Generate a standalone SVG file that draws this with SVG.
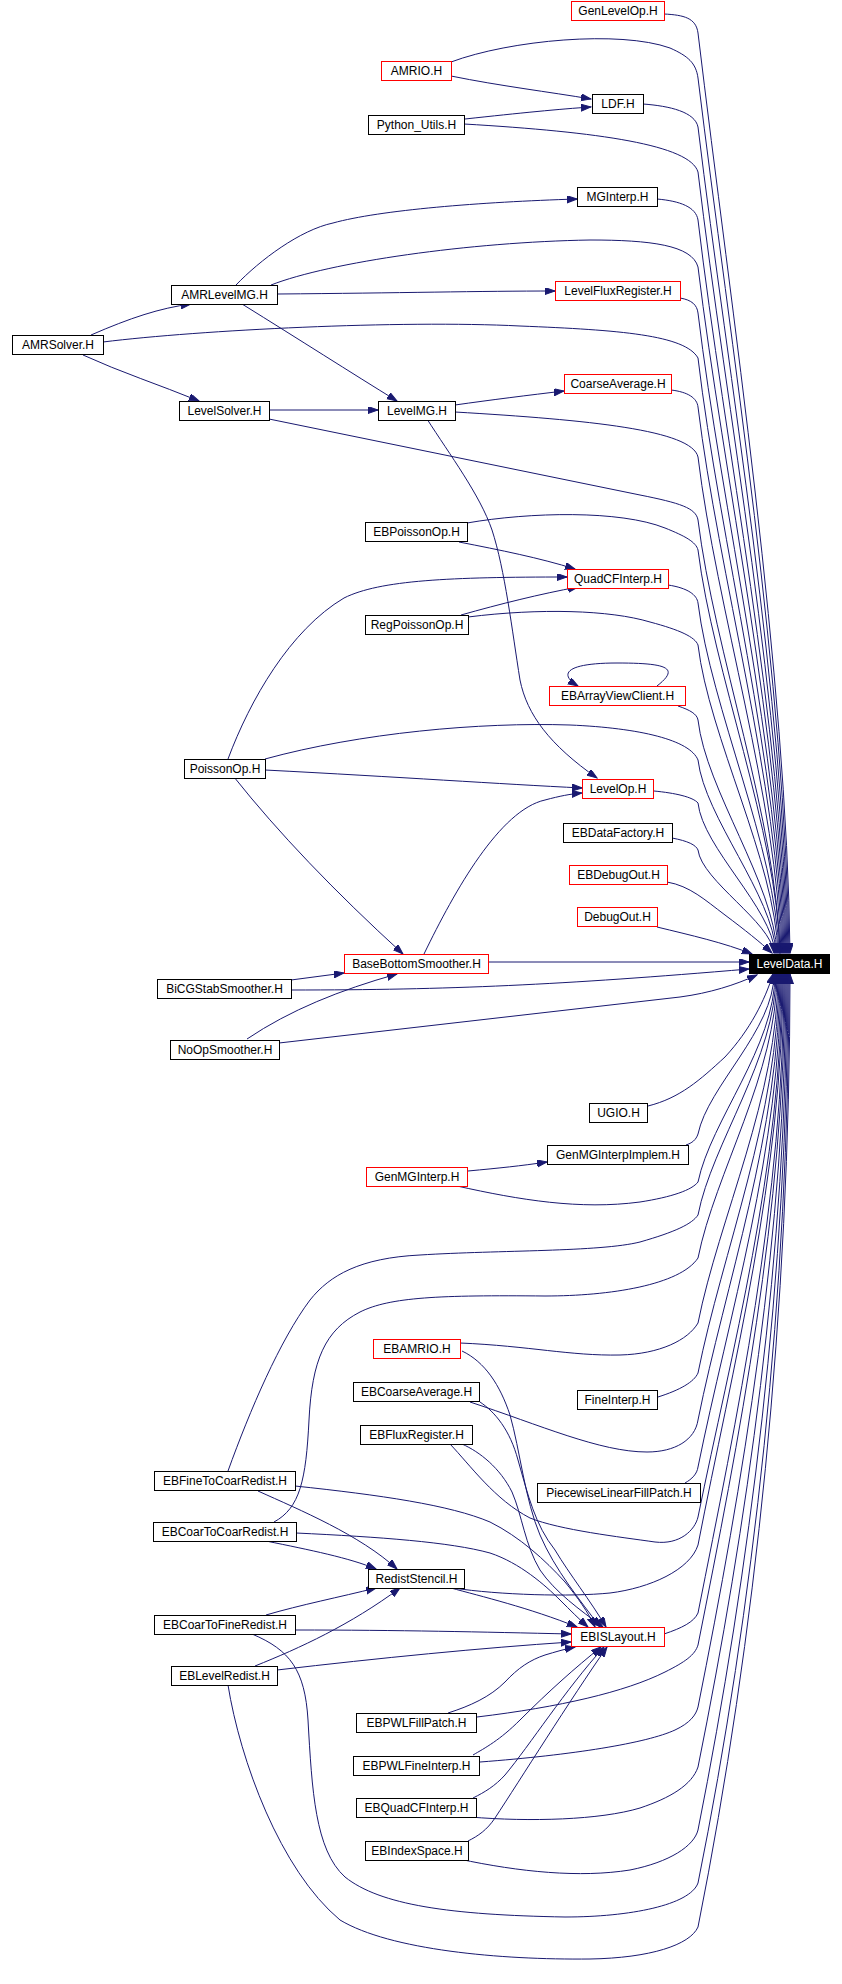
<svg xmlns="http://www.w3.org/2000/svg" width="842" height="1984" viewBox="0 0 842 1984">
<defs>
<style>
.n rect{fill:#fff;stroke:#000;stroke-width:1}
.n.r rect{stroke:#f00}
.n text{font-family:"Liberation Sans",Arial,sans-serif;font-size:12px;text-anchor:middle;fill:#000}
.n.k rect{fill:#000;stroke:#000}
.n.k text{fill:#fff}
#edges path{fill:none;stroke:#191970;stroke-width:1;marker-end:url(#arr)}
</style>
<marker id="arr" markerWidth="11" markerHeight="8" refX="10" refY="3.5" orient="auto" markerUnits="userSpaceOnUse"><path d="M0,0 L10,3.5 L0,7 z" fill="#191970" stroke="#191970" stroke-width="1"/></marker>
</defs>
<rect width="842" height="1984" fill="#fff"/>
<g id="edges">
<!-- top group to LevelData -->
<path d="M664,14 C684,15 696,18 698,33 C731,309 787,677 790,953"/>
<path d="M451,62 C510,40 620,30 670,48 C688,56 696,63 698,78 C730,340 786,691 789,953"/>
<path d="M643,104 C670,106 695,112 698,127 C728,375 785,705 788,953"/>
<path d="M464,124 C600,132 690,145 698,172 C726,406 784,719 787,953"/>
<path d="M657,199 C680,201 696,207 698,220 C724,440 783,733 786,953"/>
<path d="M271,285 C330,262 470,242 590,240 C650,240 692,245 698,267 C723,473 782,747 785,953"/>
<path d="M680,298 C692,300 697,305 698,313 C721,505 781,761 784,953"/>
<path d="M103,342 C200,330 400,320 520,326 C620,330 685,335 698,358 C719,537 780,774 783,953"/>
<path d="M671,390 C688,392 697,398 698,407 C718,571 779,789 782,953"/>
<path d="M455,412 C590,420 692,430 698,457 C716,606 778,804 781,953"/>
<path d="M269,419 L640,495 C680,503 696,508 698,520 C714,650 777,823 780,953"/>
<path d="M467,523 C530,512 620,510 665,528 C685,536 696,542 698,550 C713,671 777,832 780,953"/>
<path d="M668,585 C688,588 697,595 698,603 C711,708 776,848 779,953"/>
<path d="M468,617 C540,608 610,610 650,622 C680,630 695,637 698,645 C709,737 775,861 778,953"/>
<path d="M678,706 C690,710 697,714 698,720 C706,790 774,883 777,953"/>
<path d="M265,759 C360,733 480,722 570,725 C640,728 690,740 698,760 C705,818 773,895 776,953"/>
<path d="M654,791 C675,793 693,797 698,803 C703,848 772,908 775,953"/>
<path d="M672,838 C688,841 696,845 698,850 C702,881 771,922 774,953"/>
<path d="M667,882 C690,886 705,900 725,915 C745,930 760,942 772,953"/>
<path d="M657,927 C690,935 725,943 752,954"/>
<path d="M488,962 L749,962"/>
<path d="M291,990 C450,990 560,985 749,969"/>
<path d="M279,1043 L680,997 C710,993 735,985 757,975"/>
<!-- bottom group to LevelData -->
<path d="M648,1106 C680,1098 700,1080 725,1057 C750,1030 765,1000 773,974"/>
<path d="M686,1145 C692,1143 696,1140 698,1134 C708,1086 774,1030 774,974"/>
<path d="M457,1186 C520,1200 580,1210 640,1202 C672,1197 692,1190 698,1182 C711,1120 775,1047 775,974"/>
<path d="M228,1471 C250,1410 280,1340 310,1300 C330,1275 360,1258 420,1255 C500,1250 600,1252 640,1242 C675,1232 692,1224 698,1215 C712,1143 776,1058 776,974"/>
<path d="M274,1522 C300,1508 306,1480 309,1420 C312,1360 325,1330 360,1312 C390,1297 440,1295 545,1296 C610,1296 680,1285 698,1258 C715,1173 777,1073 777,974"/>
<path d="M460,1343 C530,1346 570,1356 620,1355 C660,1354 688,1340 698,1323 C719,1218 778,1096 778,974"/>
<path d="M658,1397 C680,1390 694,1382 698,1373 C722,1253 779,1114 779,974"/>
<path d="M470,1402 C540,1425 600,1452 647,1452 C675,1452 695,1440 698,1420 C725,1286 780,1130 780,974"/>
<path d="M685,1483 C692,1479 697,1474 698,1467 C728,1319 781,1147 781,974"/>
<path d="M450,1444 C470,1465 495,1500 530,1518 C560,1530 620,1537 655,1542 C680,1545 695,1530 698,1517 C731,1354 782,1164 782,974"/>
<path d="M453,1588 C500,1595 570,1597 610,1593 C650,1588 690,1570 698,1545 C732,1370 783,1172 783,974"/>
<path d="M664,1634 C682,1628 694,1622 698,1613 C736,1421 784,1198 784,974"/>
<path d="M477,1717 C560,1707 625,1692 665,1672 C685,1662 695,1655 698,1645 C738,1444 785,1209 785,974"/>
<path d="M480,1762 C573,1755 647,1743 675,1730 C690,1723 696,1715 698,1707 C742,1487 786,1231 786,974"/>
<path d="M470,1817 C530,1822 600,1820 640,1808 C670,1798 692,1785 698,1767 C746,1529 787,1252 787,974"/>
<path d="M459,1859 C520,1872 580,1878 630,1870 C670,1862 694,1846 698,1830 C749,1573 788,1274 788,974"/>
<path d="M252,1634 C290,1650 305,1670 308,1720 C312,1790 315,1850 345,1877 C380,1905 450,1915 565,1917 C630,1917 690,1905 698,1883 C753,1610 789,1292 789,974"/>
<path d="M228,1685 C240,1760 280,1870 340,1920 C390,1950 500,1960 590,1959 C650,1958 690,1945 698,1927 C755,1641 790,1308 790,974"/>
<!-- other edges -->
<path d="M451,76 C500,86 550,92 591,99"/>
<path d="M465,119 C520,113 560,109 591,107"/>
<path d="M236,285 C260,260 300,230 333,223 C380,210 480,202 577,199"/>
<path d="M278,294 C400,293 480,291 555,291"/>
<path d="M242,304 C300,340 350,372 397,401"/>
<path d="M91,335 C130,318 160,308 191,304"/>
<path d="M83,355 C120,372 160,385 199,401"/>
<path d="M269,410 L378,410"/>
<path d="M455,405 C490,400 530,395 564,391"/>
<path d="M427,419 C450,455 480,495 492,530 C505,570 512,630 520,680 C527,715 550,745 597,778"/>
<path d="M459,542 C500,550 540,558 575,569"/>
<path d="M461,615 C500,604 540,594 578,587"/>
<path d="M228,759 C250,700 290,630 344,598 C380,580 450,577 567,577"/>
<path d="M657,686 C680,668 668,663 617,663 C566,663 558,674 578,686"/>
<path d="M265,770 C400,777 500,784 582,788"/>
<path d="M234,777 Q300,860 403,954"/>
<path d="M424,954 C455,890 500,810 545,800 C560,796 570,794 582,793"/>
<path d="M291,980 L344,973"/>
<path d="M247,1039 C290,1010 340,990 397,974"/>
<path d="M468,1171 C500,1168 520,1166 547,1162"/>
<!-- into EBISLayout -->
<path d="M462,1351 C485,1362 500,1385 510,1415 C520,1450 525,1500 540,1535 C555,1570 580,1600 600,1627"/>
<path d="M480,1402 C495,1412 510,1430 518,1460 C528,1495 535,1525 555,1550 C570,1575 590,1600 606,1627"/>
<path d="M462,1444 C480,1452 500,1468 512,1492 C522,1515 525,1545 540,1570 C555,1592 580,1610 603,1627"/>
<path d="M295,1486 C380,1495 450,1505 490,1522 C520,1537 545,1560 565,1582 C578,1598 588,1612 595,1627"/>
<path d="M296,1533 C380,1537 450,1542 490,1553 C520,1563 545,1585 560,1600 C570,1610 580,1620 588,1627"/>
<path d="M451,1588 C480,1596 530,1608 577,1627"/>
<path d="M295,1630 C400,1630 480,1632 571,1634"/>
<path d="M277,1670 C380,1658 480,1648 571,1642"/>
<path d="M448,1713 C470,1706 490,1697 505,1682 C518,1668 530,1660 545,1655 C555,1652 565,1649 575,1647"/>
<path d="M473,1755 C485,1748 500,1740 520,1720 C550,1690 575,1668 601,1647"/>
<path d="M473,1798 C485,1792 495,1786 505,1775 C530,1745 565,1690 604,1647"/>
<path d="M468,1841 C478,1836 487,1830 495,1818 C520,1780 570,1700 607,1647"/>
<!-- into RedistStencil -->
<path d="M258,1491 C300,1510 360,1535 397,1569"/>
<path d="M266,1541 C310,1550 350,1558 376,1569"/>
<path d="M266,1615 C300,1605 340,1597 376,1588"/>
<path d="M255,1666 C300,1648 350,1625 400,1588"/>
</g>
<g id="n_GenLevelOp" class="n r"><rect x="571.5" y="1.5" width="93" height="19"/><text x="618" y="15">GenLevelOp.H</text></g>
<g id="n_AMRIO" class="n r"><rect x="381.5" y="61.5" width="70" height="19"/><text x="416.5" y="75">AMRIO.H</text></g>
<g id="n_LDF" class="n"><rect x="592.5" y="94.5" width="51" height="19"/><text x="618" y="108">LDF.H</text></g>
<g id="n_Python_Utils" class="n"><rect x="368.5" y="115.5" width="96" height="19"/><text x="416.5" y="129">Python_Utils.H</text></g>
<g id="n_MGInterp" class="n"><rect x="577.5" y="187.5" width="80" height="19"/><text x="617.5" y="201">MGInterp.H</text></g>
<g id="n_AMRLevelMG" class="n"><rect x="171.5" y="285.5" width="106" height="19"/><text x="224.5" y="299">AMRLevelMG.H</text></g>
<g id="n_LevelFluxRegister" class="n r"><rect x="555.5" y="281.5" width="125" height="19"/><text x="618" y="295">LevelFluxRegister.H</text></g>
<g id="n_AMRSolver" class="n"><rect x="12.5" y="335.5" width="91" height="19"/><text x="58" y="349">AMRSolver.H</text></g>
<g id="n_LevelSolver" class="n"><rect x="179.5" y="401.5" width="90" height="19"/><text x="224.5" y="415">LevelSolver.H</text></g>
<g id="n_LevelMG" class="n"><rect x="378.5" y="401.5" width="77" height="19"/><text x="417" y="415">LevelMG.H</text></g>
<g id="n_CoarseAverage" class="n r"><rect x="564.5" y="374.5" width="107" height="19"/><text x="618" y="388">CoarseAverage.H</text></g>
<g id="n_EBPoissonOp" class="n"><rect x="365.5" y="522.5" width="102" height="19"/><text x="416.5" y="536">EBPoissonOp.H</text></g>
<g id="n_QuadCFInterp" class="n r"><rect x="567.5" y="569.5" width="101" height="19"/><text x="618" y="583">QuadCFInterp.H</text></g>
<g id="n_RegPoissonOp" class="n"><rect x="365.5" y="615.5" width="103" height="19"/><text x="417" y="629">RegPoissonOp.H</text></g>
<g id="n_EBArrayViewClient" class="n r"><rect x="549.5" y="686.5" width="136" height="19"/><text x="617.5" y="700">EBArrayViewClient.H</text></g>
<g id="n_PoissonOp" class="n"><rect x="184.5" y="759.5" width="81" height="19"/><text x="225" y="773">PoissonOp.H</text></g>
<g id="n_LevelOp" class="n r"><rect x="582.5" y="779.5" width="71" height="19"/><text x="618" y="793">LevelOp.H</text></g>
<g id="n_EBDataFactory" class="n"><rect x="563.5" y="823.5" width="109" height="19"/><text x="618" y="837">EBDataFactory.H</text></g>
<g id="n_EBDebugOut" class="n r"><rect x="569.5" y="865.5" width="98" height="19"/><text x="618.5" y="879">EBDebugOut.H</text></g>
<g id="n_DebugOut" class="n r"><rect x="577.5" y="907.5" width="80" height="19"/><text x="617.5" y="921">DebugOut.H</text></g>
<g id="n_LevelData" class="n k"><rect x="749.5" y="954.5" width="80" height="19"/><text x="789.5" y="968">LevelData.H</text></g>
<g id="n_BaseBottomSmoother" class="n r"><rect x="344.5" y="954.5" width="144" height="19"/><text x="416.5" y="968">BaseBottomSmoother.H</text></g>
<g id="n_BiCGStabSmoother" class="n"><rect x="157.5" y="979.5" width="134" height="19"/><text x="224.5" y="993">BiCGStabSmoother.H</text></g>
<g id="n_NoOpSmoother" class="n"><rect x="170.5" y="1040.5" width="109" height="19"/><text x="225" y="1054">NoOpSmoother.H</text></g>
<g id="n_UGIO" class="n"><rect x="589.5" y="1103.5" width="58" height="19"/><text x="618.5" y="1117">UGIO.H</text></g>
<g id="n_GenMGInterpImplem" class="n"><rect x="547.5" y="1145.5" width="141" height="19"/><text x="618" y="1159">GenMGInterpImplem.H</text></g>
<g id="n_GenMGInterp" class="n r"><rect x="366.5" y="1167.5" width="101" height="19"/><text x="417" y="1181">GenMGInterp.H</text></g>
<g id="n_EBAMRIO" class="n r"><rect x="373.5" y="1339.5" width="87" height="19"/><text x="417" y="1353">EBAMRIO.H</text></g>
<g id="n_EBCoarseAverage" class="n"><rect x="353.5" y="1382.5" width="126" height="19"/><text x="416.5" y="1396">EBCoarseAverage.H</text></g>
<g id="n_FineInterp" class="n"><rect x="577.5" y="1390.5" width="80" height="19"/><text x="617.5" y="1404">FineInterp.H</text></g>
<g id="n_EBFluxRegister" class="n"><rect x="360.5" y="1425.5" width="112" height="19"/><text x="416.5" y="1439">EBFluxRegister.H</text></g>
<g id="n_EBFineToCoarRedist" class="n"><rect x="154.5" y="1471.5" width="141" height="19"/><text x="225" y="1485">EBFineToCoarRedist.H</text></g>
<g id="n_PiecewiseLinearFillPatch" class="n"><rect x="537.5" y="1483.5" width="163" height="19"/><text x="619" y="1497">PiecewiseLinearFillPatch.H</text></g>
<g id="n_EBCoarToCoarRedist" class="n"><rect x="153.5" y="1522.5" width="143" height="19"/><text x="225" y="1536">EBCoarToCoarRedist.H</text></g>
<g id="n_RedistStencil" class="n"><rect x="368.5" y="1569.5" width="96" height="19"/><text x="416.5" y="1583">RedistStencil.H</text></g>
<g id="n_EBCoarToFineRedist" class="n"><rect x="154.5" y="1615.5" width="141" height="19"/><text x="225" y="1629">EBCoarToFineRedist.H</text></g>
<g id="n_EBISLayout" class="n r"><rect x="571.5" y="1627.5" width="93" height="19"/><text x="618" y="1641">EBISLayout.H</text></g>
<g id="n_EBLevelRedist" class="n"><rect x="171.5" y="1666.5" width="106" height="19"/><text x="224.5" y="1680">EBLevelRedist.H</text></g>
<g id="n_EBPWLFillPatch" class="n"><rect x="356.5" y="1713.5" width="120" height="19"/><text x="416.5" y="1727">EBPWLFillPatch.H</text></g>
<g id="n_EBPWLFineInterp" class="n"><rect x="353.5" y="1756.5" width="126" height="19"/><text x="416.5" y="1770">EBPWLFineInterp.H</text></g>
<g id="n_EBQuadCFInterp" class="n"><rect x="356.5" y="1798.5" width="120" height="19"/><text x="416.5" y="1812">EBQuadCFInterp.H</text></g>
<g id="n_EBIndexSpace" class="n"><rect x="365.5" y="1841.5" width="103" height="19"/><text x="417" y="1855">EBIndexSpace.H</text></g>
</svg>
